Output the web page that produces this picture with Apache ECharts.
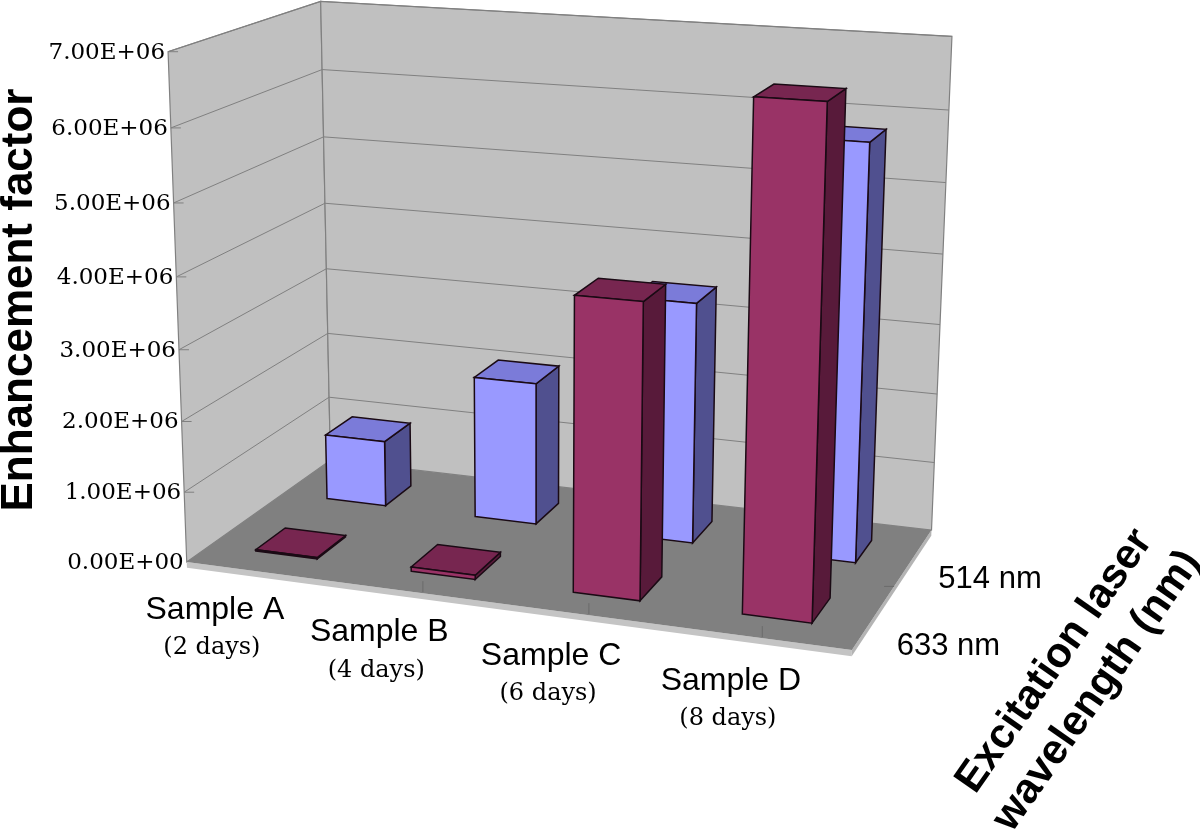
<!DOCTYPE html>
<html><head><meta charset="utf-8">
<script src="https://cdn.jsdelivr.net/npm/echarts@6/dist/echarts.min.js"></script>
<style>html,body{margin:0;padding:0;background:#fff}#c{width:1200px;height:831px}</style>
</head><body><div id="c"></div><script>
// ---------------- data ----------------
const categories = ['Sample A', 'Sample B', 'Sample C', 'Sample D'];
const categoryNotes = ['(2 days)', '(4 days)', '(6 days)', '(8 days)'];
const rowNames = ['633 nm', '514 nm'];            // front row, back row
const values633 = [0.02e6, 0.06e6, 4.05e6, 6.77e6];
const values514 = [0.97e6, 2.07e6, 3.44e6, 5.82e6];
const yTicks = [0, 1e6, 2e6, 3e6, 4e6, 5e6, 6e6, 7e6];
const yTickLabels = ['0.00E+00', '1.00E+06', '2.00E+06', '3.00E+06', '4.00E+06', '5.00E+06', '6.00E+06', '7.00E+06'];
const yTitle = 'Enhancement factor';
const depthTitle = 'Excitation laser\nwavelength (nm)';

// ---------------- 3D camera (perspective fitted to box corners) ----------------
const CAL = [
  [0, 0, 0, 187, 561], [0, 3 / 7, 0, 179, 349], [0, 5 / 7, 0, 173, 203], [0, 1, 0, 168, 52],
  [0, 0, 1, 330, 462], [0, 4 / 7, 1, 325, 202], [0, 1, 1, 321, 2],
  [1, 0, 1, 932, 528], [1, 4 / 7, 1, 943, 255], [1, 1, 1, 952, 36],
  [0.25, 0, 0, 343, 582], [0.5, 0, 0, 505, 604], [0.75, 0, 0, 675, 628], [1, 0, 0, 852, 650],
  [1, 0, 0.5, 893, 587]
];
function fitCamera(pts) {
  const S = 1000, n = 11, rows = [], rhs = [];
  pts.forEach(([u, v, w, X, Y]) => {
    X /= S; Y /= S;
    rows.push([u, v, w, 1, 0, 0, 0, 0, -X * u, -X * v, -X * w]); rhs.push(X);
    rows.push([0, 0, 0, 0, u, v, w, 1, -Y * u, -Y * v, -Y * w]); rhs.push(Y);
  });
  const A = [], b = [];
  for (let i = 0; i < n; i++) {
    A.push(new Array(n).fill(0)); b.push(0);
    for (let k = 0; k < rows.length; k++) {
      for (let j = 0; j < n; j++) A[i][j] += rows[k][i] * rows[k][j];
      b[i] += rows[k][i] * rhs[k];
    }
  }
  for (let c = 0; c < n; c++) {
    let p = c;
    for (let r = c + 1; r < n; r++) if (Math.abs(A[r][c]) > Math.abs(A[p][c])) p = r;
    [A[c], A[p]] = [A[p], A[c]]; [b[c], b[p]] = [b[p], b[c]];
    for (let r = 0; r < n; r++) {
      if (r === c) continue;
      const f = A[r][c] / A[c][c];
      for (let j = c; j < n; j++) A[r][j] -= f * A[c][j];
      b[r] -= f * b[c];
    }
  }
  return b.map((x, i) => x / A[i][i]);
}
const CAM = fitCamera(CAL);
function P(u, v, w) {
  const m = CAM, d = m[8] * u + m[9] * v + m[10] * w + 1;
  return [1000 * (m[0] * u + m[1] * v + m[2] * w + m[3]) / d, 1000 * (m[4] * u + m[5] * v + m[6] * w + m[7]) / d];
}

const BAR_RATIO = 0.4;       // bar width / category width, bar depth / row depth
const SLAB = 0.012;          // floor thickness (fraction of value range)

function poly(points, fill, stroke, lw) {
  return { type: 'polygon', shape: { points: points }, style: { fill: fill, stroke: stroke || 'none', lineWidth: lw || 0 } };
}
function line(points, color, lw) {
  return { type: 'polyline', shape: { points: points }, style: { fill: 'none', stroke: color, lineWidth: lw || 1 } };
}
function text(x, y, str, font, align, valign, rot, lh) {
  return {
    type: 'text', x: x, y: y, rotation: rot || 0,
    style: { text: str, x: 0, y: 0, fill: '#000', font: font, textAlign: align, textVerticalAlign: valign, lineHeight: lh }
  };
}
function toUV(api, cs, cat, val) {
  const p = api.coord([cat, val]);
  return [(p[0] - cs.x) / cs.width, (cs.y + cs.height - p[1]) / cs.height];
}

const ROW_LABEL_OFFSET = [[23, 29], [25, 22]];

// frame: walls, floor, gridlines, labels
function renderFrame(params, api) {
  const cs = params.coordSys;
  const ch = [];
  const gray = '#808080';
  // walls
  ch.push(poly([P(0, 0, 0), P(0, 0, 1), P(0, 1, 1), P(0, 1, 0)], '#c0c0c0', gray, 1.2));
  ch.push(poly([P(0, 0, 1), P(1, 0, 1), P(1, 1, 1), P(0, 1, 1)], '#c0c0c0', gray, 1.2));
  // floor slab
  ch.push(poly([P(0, -SLAB, 0), P(1, -SLAB, 0), P(1, 0, 0), P(0, 0, 0)], '#c4c4c4'));
  ch.push(poly([P(1, -SLAB, 0), P(1, -SLAB, 1), P(1, 0, 1), P(1, 0, 0)], '#b4b4b4'));
  ch.push(poly([P(0, 0, 0), P(1, 0, 0), P(1, 0, 1), P(0, 0, 1)], '#808080'));
  // gridlines and y ticks
  yTicks.forEach((t, i) => {
    const v = toUV(api, cs, 0, t)[1];
    if (t > 0) ch.push(line([P(0, v, 0), P(0, v, 1), P(1, v, 1)], gray, 1));
    const e = P(0, v, 0);
    if (t > 0) ch.push(line([e, [e[0] + 10, e[1]]], gray, 1));
    ch.push(text(e[0] - 3, e[1] + 1, yTickLabels[i], '23px "DejaVu Serif"', 'right', 'middle'));
  });
  // category ticks on floor
  for (let k = 1; k < categories.length; k++) {
    const u = toUV(api, cs, k - 0.5, 0)[0];
    const e = P(u, 0, 0);
    ch.push(line([[e[0], e[1] - 1], [e[0], e[1] - 12]], '#6a6a6a', 1));
  }
  // depth tick
  const dt = P(1, 0, 0.5);
  ch.push(line([[dt[0], dt[1]], [dt[0] - 10, dt[1]]], '#6a6a6a', 1));
  // category labels
  categories.forEach((c, i) => {
    const u = toUV(api, cs, i, 0)[0];
    const e = P(u, 0, -0.32);
    ch.push(text(e[0] + 2, e[1] - 1, c, '32px "Liberation Sans"', 'center', 'middle'));
    ch.push(text(e[0] - 1, e[1] + 37, categoryNotes[i], '24px "DejaVu Serif"', 'center', 'middle'));
  });
  // row labels
  rowNames.forEach((r, i) => {
    const e = P(1, 0, (i + 0.5) / rowNames.length);
    const o = ROW_LABEL_OFFSET[i];
    ch.push(text(e[0] + o[0], e[1] + o[1], r, '31px "Liberation Sans"', 'left', 'middle'));
  });
  // titles
  ch.push(text(20, 300, yTitle, 'bold 44px "Liberation Sans"', 'center', 'middle', Math.PI / 2));
  ch.push(text(1076, 676, depthTitle, 'bold 42px "Liberation Sans"', 'center', 'middle', 55 * Math.PI / 180, 52));
  return { type: 'group', children: ch };
}

function barRenderer(rowIndex, cFront, cSide, cTop) {
  return function (params, api) {
    const cs = params.coordSys;
    const cat = api.value(0), val = api.value(1);
    const [u, v] = toUV(api, cs, cat, val);
    const v0 = toUV(api, cs, cat, 0)[1];
    const half = api.size([1, 0])[0] / cs.width * BAR_RATIO / 2;
    const wc = (rowIndex + 0.5) / rowNames.length, hd = (1 / rowNames.length) * BAR_RATIO / 2;
    const u0 = u - half, u1 = u + half, w0 = wc - hd, w1 = wc + hd;
    const st = '#1a0a14', lw = 1.5;
    return {
      type: 'group', children: [
        poly([P(u1, v0, w0), P(u1, v0, w1), P(u1, v, w1), P(u1, v, w0)], cSide, st, lw),
        poly([P(u0, v, w0), P(u1, v, w0), P(u1, v, w1), P(u0, v, w1)], cTop, st, lw),
        poly([P(u0, v0, w0), P(u1, v0, w0), P(u1, v, w0), P(u0, v, w0)], cFront, st, lw)
      ]
    };
  };
}

const chart = echarts.init(document.getElementById('c'), null, { renderer: 'canvas' });
chart.setOption({
  animation: false,
  backgroundColor: '#ffffff',
  grid: { left: 200, top: 100, width: 600, height: 400, show: false },
  xAxis: { type: 'category', data: categories, show: false },
  yAxis: { type: 'value', min: 0, max: 7e6, interval: 1e6, show: false },
  series: [
    { type: 'custom', name: 'frame', z: 1, renderItem: renderFrame, data: [[0, 0]], silent: true },
    { type: 'custom', name: rowNames[1], z: 2, renderItem: barRenderer(1, '#9999ff', '#50508f', '#7b7bd9'),
      data: values514.map((v, i) => [i, v]) },
    { type: 'custom', name: rowNames[0], z: 3, renderItem: barRenderer(0, '#993366', '#581a3a', '#772650'),
      data: values633.map((v, i) => [i, v]) }
  ]
});
</script></body></html>
